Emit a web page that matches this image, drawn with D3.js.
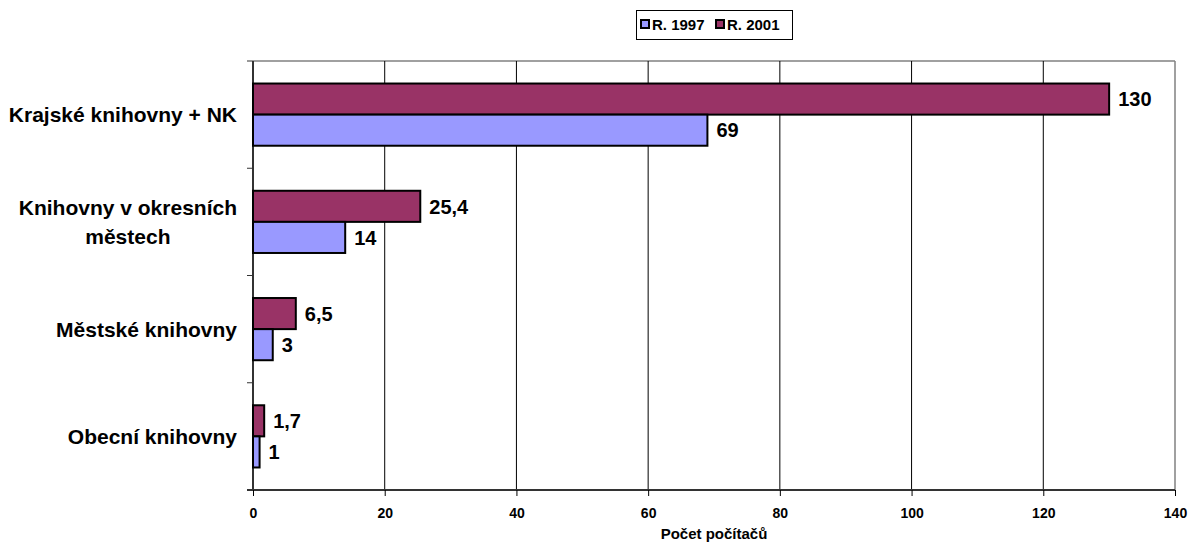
<!DOCTYPE html>
<html><head><meta charset="utf-8">
<script src="https://cdn.jsdelivr.net/npm/d3@7"></script>
<style>
body{margin:0;background:#fff;}
text{font-family:Arial,"Liberation Sans",sans-serif;font-weight:bold;fill:#000;}
</style></head>
<body>
<svg id="c" width="1192" height="547"></svg>
<script>
const categories = ["Krajské knihovny + NK", "Knihovny v okresních městech", "Městské knihovny", "Obecní knihovny"];
const categoryLines = [["Krajské knihovny + NK"], ["Knihovny v okresních", "městech"], ["Městské knihovny"], ["Obecní knihovny"]];
const seriesNames = ["R. 2001", "R. 1997"];
const values2001 = [130, 25.4, 6.5, 1.7];
const values1997 = [69, 14, 3, 1];
const valueLabels2001 = ["130", "25,4", "6,5", "1,7"];
const valueLabels1997 = ["69", "14", "3", "1"];
const xTicks = [0, 20, 40, 60, 80, 100, 120, 140];
const colors = {"R. 2001": "#993366", "R. 1997": "#9999FF"};
const axisTitle = "Počet počítačů";

const svg = d3.select("#c");
const L = 253, R = 1175, T = 61, B = 490;
const x = d3.scaleLinear().domain([0, 140]).range([L, R]);
const y = d3.scaleBand().domain(categories).range([T, B]).paddingInner(0.42).paddingOuter(0.21);
const sub = d3.scaleBand().domain(seriesNames).range([0, y.bandwidth()]);

// plot border (top, right)
svg.append("line").attr("x1", L).attr("x2", R).attr("y1", T).attr("y2", T).attr("stroke", "#808080").attr("stroke-width", 1.5);
svg.append("line").attr("x1", R).attr("x2", R).attr("y1", T).attr("y2", B).attr("stroke", "#808080").attr("stroke-width", 1.5);

// grid
svg.append("g").selectAll("line").data(xTicks.filter(d => d > 0 && d < 140)).join("line")
  .attr("x1", d => x(d)).attr("x2", d => x(d)).attr("y1", T).attr("y2", B)
  .attr("stroke", "#000").attr("stroke-width", 1);

// bottom axis
const xAxis = d3.axisBottom(x).tickValues(xTicks).tickSize(6).tickPadding(12).tickFormat(d3.format("d"));
const gx = svg.append("g").attr("transform", `translate(0,${B})`).call(xAxis);
gx.select(".domain").attr("d", `M${L - 6},0H${R}`).attr("stroke", "#333").attr("stroke-width", 2);
gx.selectAll(".tick line").attr("stroke", "#000");
gx.selectAll(".tick text").style("font-size", "14px").style("font-family", "Arial,'Liberation Sans',sans-serif").style("font-weight", "bold").attr("fill", "#000");

// left axis with ticks at band boundaries
const bounds = categories.map(c => y(c) - y.step() * y.paddingInner() / 2).concat([B]);
svg.append("line").attr("x1", L).attr("x2", L).attr("y1", T).attr("y2", B).attr("stroke", "#333").attr("stroke-width", 2);
svg.append("g").selectAll("line").data(bounds).join("line")
  .attr("x1", L - 6).attr("x2", L).attr("y1", d => d).attr("y2", d => d).attr("stroke", "#333").attr("stroke-width", 1);

// bars
const data = [];
categories.forEach((c, i) => {
  data.push({c, s: "R. 2001", v: values2001[i], lab: valueLabels2001[i]});
  data.push({c, s: "R. 1997", v: values1997[i], lab: valueLabels1997[i]});
});
svg.append("g").selectAll("rect").data(data).join("rect")
  .attr("x", x(0)).attr("y", d => y(d.c) + sub(d.s))
  .attr("width", d => x(d.v) - x(0)).attr("height", sub.bandwidth())
  .attr("fill", d => colors[d.s]).attr("stroke", "#000").attr("stroke-width", 2);

svg.append("g").selectAll("text").data(data).join("text")
  .attr("x", d => x(d.v) + 9).attr("y", d => y(d.c) + sub(d.s) + sub.bandwidth() / 2)
  .attr("dy", "0.36em").style("font-size", "20px").text(d => d.lab);

// category labels
categoryLines.forEach((lines, i) => {
  const cy = y(categories[i]) + y.bandwidth() / 2;
  const lh = 29;
  const t = svg.append("text").style("font-size", "21px");
  if (lines.length === 1) {
    t.attr("x", 237).attr("y", cy).attr("dy", "0.36em").attr("text-anchor", "end").text(lines[0]);
  } else {
    t.attr("text-anchor", "middle");
    const tmp = svg.append("text").style("font-size", "21px").text(lines[0]);
    const w = tmp.node().getComputedTextLength(); tmp.remove();
    const cx = 237 - w / 2;
    lines.forEach((ln, k) => {
      t.append("tspan").attr("x", cx).attr("y", cy + (k - (lines.length - 1) / 2) * lh).attr("dy", "0.36em").text(ln);
    });
  }
});

// axis title
svg.append("text").attr("x", 714).attr("y", 534).attr("dy", "0.36em").attr("text-anchor", "middle")
  .style("font-size", "15px").text(axisTitle);

// legend
const lg = svg.append("g");
lg.append("rect").attr("x", 636.5).attr("y", 10.5).attr("width", 156).attr("height", 29).attr("fill", "#fff").attr("stroke", "#000").attr("stroke-width", 1);
const legendItems = ["R. 1997", "R. 2001"];
const legendX = [641, 716];
legendItems.forEach((s, i) => {
  lg.append("rect").attr("x", legendX[i]).attr("y", 20).attr("width", 8).attr("height", 8).attr("fill", colors[s]).attr("stroke", "#000").attr("stroke-width", 2);
  lg.append("text").attr("x", legendX[i] + 11).attr("y", 24.5).attr("dy", "0.36em").style("font-size", "15px").text(s);
});
</script>
</body></html>
